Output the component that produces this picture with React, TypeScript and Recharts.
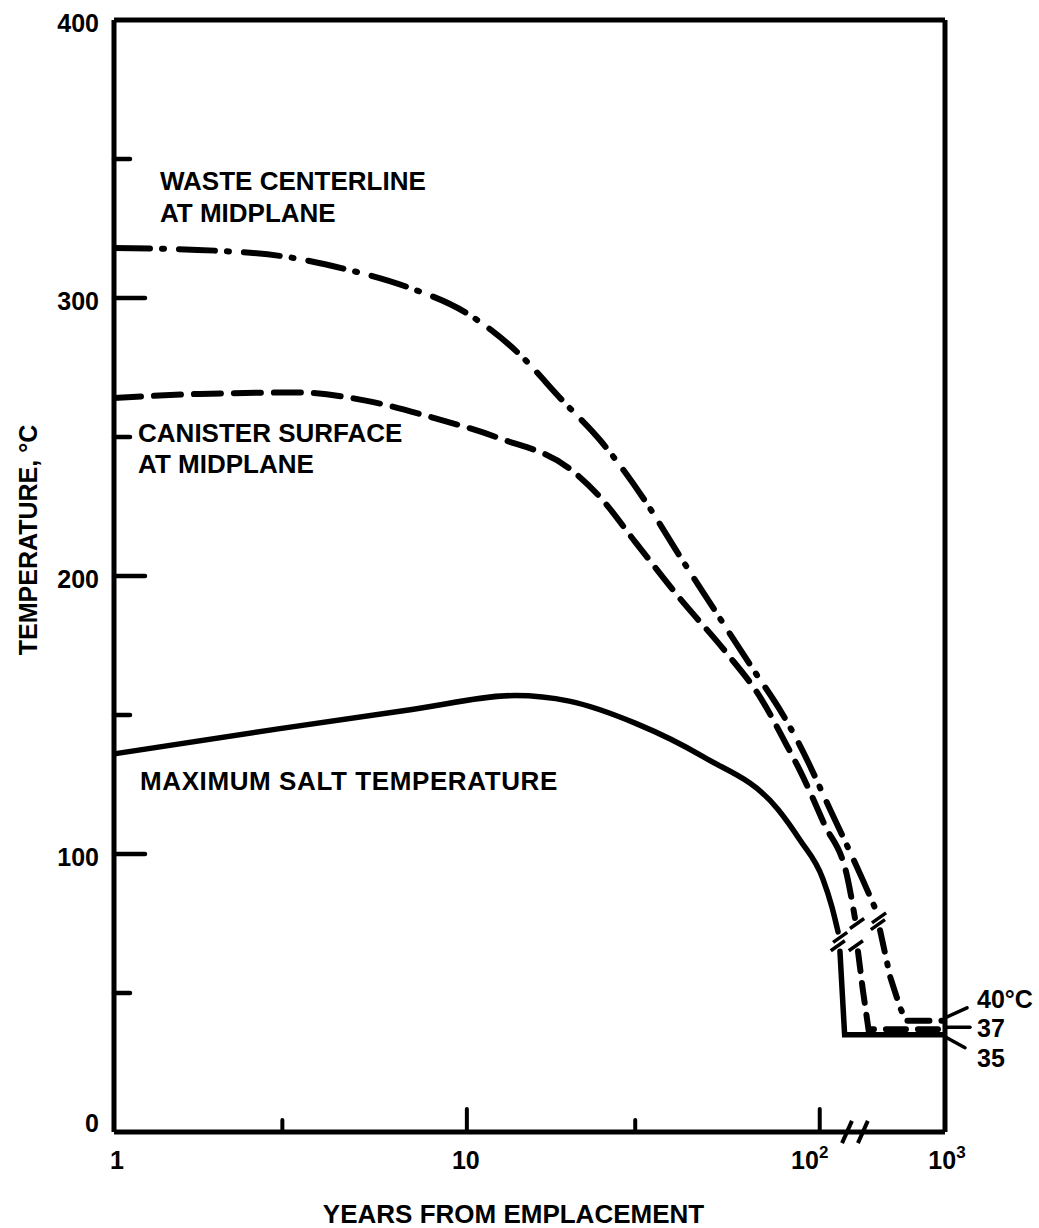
import React from 'react';
import { LineChart, Line, XAxis, YAxis, ReferenceLine, ReferenceDot } from 'recharts';

// ---------------- data ----------------
// Waste centerline at midplane (dash-dot)
const wastePreYears = [1, 1.96, 3.01, 4.66, 6.76, 10, 13.9, 18.7, 23.8, 32, 40.2, 50.8, 64.3, 78.7, 87.9, 121, 221, 286];
const wastePreTemps = [318, 317, 315, 310, 304, 294.5, 280.5, 263, 249, 227, 207, 187, 167, 150, 139, 116, 90.6, 79];
const wastePostYears = [303, 364, 436, 488, 1000];
const wastePostTemps = [72.6, 56, 45, 40, 40];

// Canister surface at midplane (dashed)
const canisterPreYears = [1, 1.75, 3.37, 5.21, 8.0, 12.4, 19.6, 23.8, 30.1, 40.1, 53.9, 68.1, 80.7, 87.9, 108, 168, 191];
const canisterPreTemps = [264, 265.5, 266, 263, 257, 249.5, 238.5, 228.5, 212, 192, 173, 156, 139, 130, 111, 90.6, 77];
const canisterPostYears = [202, 221, 245, 1000];
const canisterPostTemps = [65, 51, 37, 37];

// Maximum salt temperature (solid)
const saltPreYears = [1, 2.92, 6.99, 13.7, 19.5, 30.1, 46.7, 76.2, 87.9, 106, 125, 140];
const saltPreTemps = [136, 145, 152, 157, 155, 147, 135, 116, 105, 91, 81, 72];
const saltPostYears = [145, 158, 1000];
const saltPostTemps = [65, 35, 35];

// Axes
const yTicks = [0, 50, 100, 150, 200, 250, 300, 350, 400];
const xTickYears = [1, 3, 10, 30, 100, 1000];
const xTickBase = ['1', '', '10', '', '10', '10'];
const xTickExp = ['', '', '', '', '2', '3'];
const axisBreakYears = [165, 221];

// Annotations
const noteTexts = ['WASTE CENTERLINE', 'AT MIDPLANE', 'CANISTER SURFACE', 'AT MIDPLANE', 'MAXIMUM SALT TEMPERATURE'];
const noteYears = [1.35, 1.35, 1.17, 1.17, 1.185];
const noteTemps = [338.8, 327.3, 248.2, 237, 123];

const endTexts = ['40°C', '37', '35'];
const endTemps = [40, 37, 35];

const xTitle = 'YEARS FROM EMPLACEMENT';
const yTitle = 'TEMPERATURE, °C';

// ---------------- helpers ----------------
const POST_BREAK_SCALE = 0.355; // compressed decade 100 -> 1000 after the axis break
const toPos = (years: number) =>
  years <= 100 ? Math.log10(years) : 2 + (Math.log10(years) - 2) * POST_BREAK_SCALE;
const X_MAX = toPos(1000);
const build = (years: number[], temps: number[]) => years.map((y, i) => ({ x: toPos(y), t: temps[i] }));

const wastePre = build(wastePreYears, wastePreTemps);
const wastePost = build(wastePostYears, wastePostTemps);
const canisterPre = build(canisterPreYears, canisterPreTemps);
const canisterPost = build(canisterPostYears, canisterPostTemps);
const saltPre = build(saltPreYears, saltPreTemps);
const saltPost = build(saltPostYears, saltPostTemps);

const xTickPositions = xTickYears.map(toPos);

const FONT = '"Liberation Sans", Arial, Helvetica, sans-serif';
const FS = 26;
const INK = '#000';

const YTick = (props: any) => {
  const { x, y, payload } = props;
  const v = payload.value as number;
  const major = v % 100 === 0;
  return (
    <g>
      {v !== 0 && v !== 400 && (
        <line x1={x} y1={y} x2={x + (major ? 31 : 16)} y2={y} stroke={INK} strokeWidth={4.5} strokeLinecap="round" />
      )}
      {major && (
        <text x={x - 15} y={v === 0 ? y : y + 12} textAnchor="end" fontFamily={FONT} fontWeight="bold" fontSize={FS - 1} fill={INK}>
          {v}
        </text>
      )}
    </g>
  );
};

const XTick = (props: any) => {
  const { x, y, payload } = props;
  const i = xTickPositions.findIndex((p) => Math.abs(p - payload.value) < 1e-6);
  if (i < 0) return null;
  const yr = xTickYears[i];
  const isDecade = Math.abs(Math.log10(yr) - Math.round(Math.log10(yr))) < 1e-9;
  const len = yr === 1 || yr === 1000 ? 0 : isDecade ? 23 : 12;
  const dx = yr === 1 ? 3 : yr === 10 ? -1 : yr === 100 ? -10 : 2;
  return (
    <g>
      {len > 0 && <line x1={x} y1={y} x2={x} y2={y - len} stroke={INK} strokeWidth={4} strokeLinecap="round" />}
      {xTickBase[i] && (
        <text x={x + dx} y={y + 37} textAnchor="middle" fontFamily={FONT} fontWeight="bold" fontSize={FS - 1} fill={INK}>
          {xTickBase[i]}
          {xTickExp[i] && (
            <tspan dy={-11} fontSize={17}>
              {xTickExp[i]}
            </tspan>
          )}
        </text>
      )}
    </g>
  );
};

const XTitle = (props: any) => {
  const vb = props.viewBox || { x: 114, y: 1132, width: 831, height: 60 };
  return (
    <text x={vb.x + vb.width / 2 - 16} y={vb.y + 91} textAnchor="middle" fontFamily={FONT} fontWeight="bold" fontSize={FS} fill={INK}>
      {xTitle}
    </text>
  );
};

const YTitle = (props: any) => {
  const vb = props.viewBox || { x: 0, y: 20, width: 114, height: 1112 };
  const cx = vb.x + 37;
  const cy = vb.y + vb.height / 2 - 36;
  return (
    <text x={cx} y={cy} transform={`rotate(-90, ${cx}, ${cy})`} textAnchor="middle" fontFamily={FONT} fontWeight="bold" fontSize={FS - 1} fill={INK}>
      {yTitle}
    </text>
  );
};

const NoteLabel = (text: string, spacing: number) => (props: any) => {
  const vb = props.viewBox;
  if (!vb) return null;
  const cx = vb.x + (vb.width || 0) / 2;
  const cy = vb.y + (vb.height || 0) / 2;
  return (
    <text x={cx} y={cy} textAnchor="start" fontFamily={FONT} fontWeight="bold" fontSize={FS} letterSpacing={spacing} fill={INK}>
      {text}
    </text>
  );
};

// leader-line geometry (style) for the three end labels
const endStyle = [
  { a: -3, bx: 22, b: -13, ty: -13 },
  { a: -2, bx: 25, b: -2, ty: 8 },
  { a: 2, bx: 20, b: 13, ty: 32 },
];

const EndLabel = (i: number) => (props: any) => {
  const vb = props.viewBox;
  if (!vb) return null;
  const cx = vb.x + (vb.width || 0) / 2;
  const cy = vb.y + (vb.height || 0) / 2;
  const s = endStyle[i];
  return (
    <g>
      <line x1={cx} y1={cy + s.a} x2={cx + s.bx} y2={cy + s.b} stroke={INK} strokeWidth={3.5} strokeLinecap="round" />
      <text x={cx + 32} y={cy + s.ty} textAnchor="start" fontFamily={FONT} fontWeight="bold" fontSize={FS - 1} fill={INK}>
        {endTexts[i]}
      </text>
    </g>
  );
};

// break marks "/" across each curve gap and across the x axis
const markAt = (pos: number, t: number, hx: number, hy: number) => [
  { x: pos - hx, y: t - hy },
  { x: pos + hx, y: t + hy },
];
const curveBreaks = [
  [wastePre[wastePre.length - 1], wastePost[0]],
  [canisterPre[canisterPre.length - 1], canisterPost[0]],
  [saltPre[saltPre.length - 1], saltPost[0]],
];

export default function App() {
  const lineCommon = { dot: false, isAnimationActive: false, stroke: INK, dataKey: 't', strokeLinecap: 'round' as const };
  return (
    <div style={{ position: 'absolute', left: 0, top: 0, width: 1039, height: 1228, background: '#fff' }}>
      <LineChart width={1039} height={1228} margin={{ top: 20, right: 94, bottom: 36, left: 0 }}>
        <XAxis
          type="number"
          dataKey="x"
          domain={[0, X_MAX]}
          ticks={xTickPositions}
          interval={0}
          allowDataOverflow
          height={60}
          tickSize={0}
          tickMargin={0}
          tickLine={false}
          tick={(p: any) => <XTick {...p} />}
          axisLine={{ stroke: INK, strokeWidth: 5 }}
          label={(p: any) => <XTitle {...p} />}
        />
        <YAxis
          type="number"
          domain={[0, 400]}
          ticks={yTicks}
          interval={0}
          width={114}
          tickSize={0}
          tickMargin={0}
          tickLine={false}
          tick={(p: any) => <YTick {...p} />}
          axisLine={{ stroke: INK, strokeWidth: 5 }}
          label={(p: any) => <YTitle {...p} />}
        />
        <ReferenceLine y={400} stroke={INK} strokeWidth={5} ifOverflow="visible" />
        <ReferenceLine x={X_MAX} stroke={INK} strokeWidth={5} ifOverflow="visible" />

        <Line {...lineCommon} data={wastePre} type="monotone" strokeWidth={6} strokeDasharray="36 12 2 15" />
        <Line {...lineCommon} data={wastePost} type="linear" strokeWidth={6} strokeDasharray="22 12 2 12" />
        <Line {...lineCommon} data={canisterPre} type="monotone" strokeWidth={6} strokeDasharray="27 13" />
        <Line {...lineCommon} data={canisterPost} type="linear" strokeWidth={6} strokeDasharray="20 12" />
        <Line {...lineCommon} data={saltPre} type="monotone" strokeWidth={5.5} />
        <Line {...lineCommon} data={saltPost} type="linear" strokeWidth={5.5} />

        {curveBreaks.map((pair, i) =>
          pair.map((pt, j) => (
            <ReferenceLine
              key={`cb-${i}-${j}`}
              segment={markAt(pt.x + (j === 0 ? 0.006 : -0.006), pt.t + (j === 0 ? -2 : 2), 0.02, 1.8)}
              stroke={INK}
              strokeWidth={3.5}
              ifOverflow="visible"
            />
          ))
        )}
        {axisBreakYears.map((yr, i) => (
          <ReferenceLine
            key={`ab-${i}`}
            segment={markAt(toPos(yr), 0, 0.014, 4)}
            stroke={INK}
            strokeWidth={4}
            ifOverflow="visible"
          />
        ))}

        {noteTexts.map((txt, i) => (
          <ReferenceDot
            key={`note-${i}`}
            x={toPos(noteYears[i])}
            y={noteTemps[i]}
            r={1}
            fill="none"
            stroke="none"
            ifOverflow="visible"
            label={NoteLabel(txt, i === 4 ? 0.6 : 0)}
          />
        ))}
        {endTemps.map((t, i) => (
          <ReferenceDot
            key={`end-${i}`}
            x={X_MAX}
            y={t}
            r={1}
            fill="none"
            stroke="none"
            ifOverflow="visible"
            label={EndLabel(i)}
          />
        ))}
      </LineChart>
    </div>
  );
}
